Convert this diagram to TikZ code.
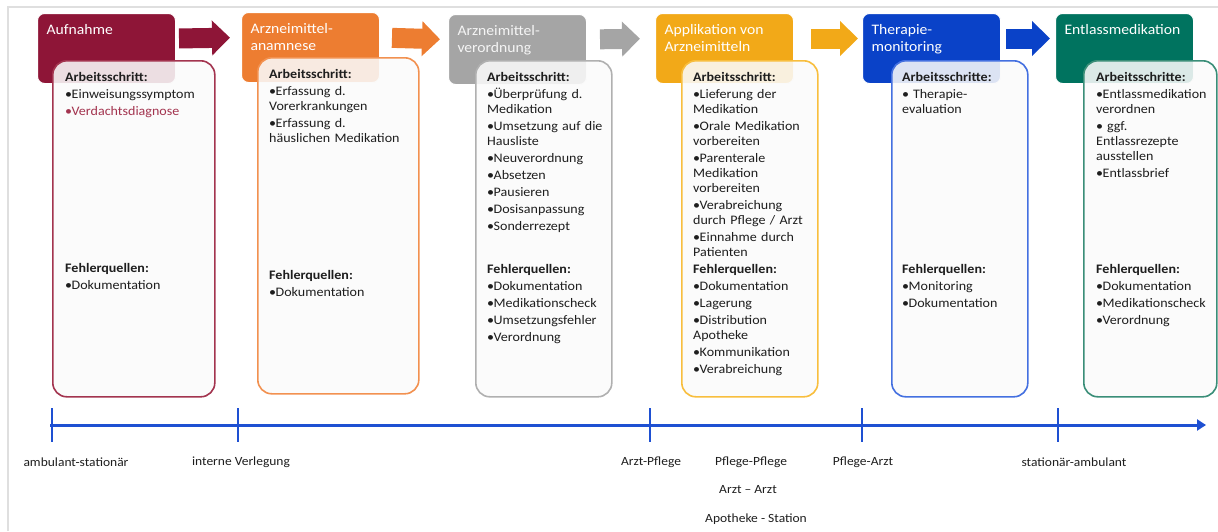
\documentclass[tikz,border=0pt]{standalone}
\usepackage{fontspec}
\setmainfont{Carlito}[FakeStretch=1.08]
\usepackage{xcolor}
\usetikzlibrary{positioning,arrows.meta,calc}

\definecolor{aufRed}{HTML}{8E1537}
\definecolor{aufRedL}{HTML}{A3344F}
\definecolor{anaOra}{HTML}{ED7D31}
\definecolor{anaOraL}{HTML}{F29150}
\definecolor{verGry}{HTML}{A5A5A5}
\definecolor{verGryL}{HTML}{B0B0B0}
\definecolor{appGld}{HTML}{F2A918}
\definecolor{appGldL}{HTML}{F8BE3E}
\definecolor{monBlu}{HTML}{0A42C8}
\definecolor{monBluL}{HTML}{4470E0}
\definecolor{entGrn}{HTML}{00735F}
\definecolor{entGrnL}{HTML}{3A8E78}
\definecolor{txtc}{HTML}{1E1E1E}
\definecolor{tlBlu}{HTML}{1E50D2}

\newcommand{\bul}[2][txtc]{\par\vspace{2pt}\hangindent=6.5pt\noindent{\color{#1}\hbox to 6.5pt{\textbullet\hss}#2}}
\newcommand{\headbox}[1]{\parbox[b][56pt][t]{120pt}{\vspace*{4pt}\raggedright #1}}

\begin{document}
\begin{tikzpicture}[x=1pt,y=-1pt,
    head/.style={fill=#1,rounded corners=7pt,draw=white,line width=1pt,
                 inner xsep=9pt,inner ysep=7pt,anchor=north west,text=white,
                 font=\fontsize{14.5}{17}\selectfont},
    card/.style={draw=#1,line width=1.6pt,rounded corners=14pt,fill=gray!4,
                 fill opacity=0.88,minimum height=336pt,inner sep=0pt},
    txt/.style={inner sep=0pt,text width=#1,align=left,text=txtc,
                font=\fontsize{13}{15}\selectfont},
    flow/.style={draw=#1,line width=20pt,-{Triangle[length=18pt,width=34pt]}},
    tline/.style={draw=tlBlu,line width=3pt,-{Triangle[length=9pt,width=11pt]}},
    tick/.style={draw=tlBlu,line width=2.2pt},
    lbl/.style={text=txtc,font=\fontsize{12.5}{14}\selectfont},
    frame/.style={draw=gray!25,line width=2pt}]

\useasboundingbox (0,0) rectangle (1218,531);
\draw[frame] (8,531) -- (8,7) -- (1218,7);

% phase headers
\node[head=aufRed] (hAuf) at (37,13) {\headbox{Aufnahme}};
\node[head=anaOra] (hAna) at (241,12) {\headbox{Arzneimittel-\\anamnese}};
\node[head=verGry,text=white!92!gray] (hVer) at (448,14) {\headbox{Arzneimittel-\\verordnung}};
\node[head=appGld] (hApp) at (655,13) {\headbox{Applikation von\\Arzneimitteln}};
\node[head=monBlu] (hMon) at (862,13) {\headbox{Therapie-\\monitoring}};
\node[head=entGrn] (hEnt) at (1055,13) {\headbox{Entlassmedikation}};

% block arrows
\draw[flow=aufRed,shorten <=3pt,shorten >=11pt] ([yshift=10pt]hAuf.east) -- ([yshift=10pt]hAna.west);
\draw[flow=anaOra,shorten <=12pt,shorten >=8pt] ([yshift=10pt]hAna.east) -- ([yshift=10pt]hVer.west);
\draw[flow=verGry,shorten <=13pt,shorten >=15pt] ([yshift=10pt]hVer.east) -- ([yshift=10pt]hApp.west);
\draw[flow=appGld,shorten <=17pt,shorten >=4pt] ([yshift=10pt]hApp.east) -- ([yshift=10pt]hMon.west);
\draw[flow=monBlu,shorten <=5pt,shorten >=5pt] ([yshift=10pt]hMon.east) -- ([yshift=10pt]hEnt.west);

% cards
\node[card=aufRedL,minimum width=162pt,below right=47pt and 15pt of hAuf.north west] (cAuf) {};
\node[card=anaOraL,minimum width=161pt,below right=45pt and 16pt of hAna.north west] (cAna) {};
\node[card=verGryL,minimum width=136pt,below right=46pt and 27pt of hVer.north west] (cVer) {};
\node[card=appGldL,minimum width=136pt,below right=47pt and 26pt of hApp.north west] (cApp) {};
\node[card=monBluL,minimum width=136pt,below right=47pt and 29pt of hMon.north west] (cMon) {};
\node[card=entGrnL,minimum width=133pt,below right=47pt and 28pt of hEnt.north west] (cEnt) {};

% work steps
\node[txt=145pt,below right=12pt and 13pt of cAuf.north west] (sAuf)
  {\textbf{Arbeitsschritt:}\bul{Einweisungssymptom}\bul[aufRedL]{Verdachtsdiagnose}};
\node[txt=145pt,below right=12pt and 12pt of cAna.north west] (sAna)
  {\textbf{Arbeitsschritt:}\bul{Erfassung d.\\Vorerkrankungen}\bul{Erfassung d.\\häuslichen Medikation}};
\node[txt=125pt,below right=12pt and 12pt of cVer.north west] (sVer)
  {\textbf{Arbeitsschritt:}\bul{Überprüfung d.\\Medikation}\bul{Umsetzung auf die\\Hausliste}%
   \bul{Neuverordnung}\bul{Absetzen}\bul{Pausieren}\bul{Dosisanpassung}\bul{Sonderrezept}};
\node[txt=125pt,below right=12pt and 12pt of cApp.north west] (sApp)
  {\textbf{Arbeitsschritt:}\bul{Lieferung der\\Medikation}\bul{Orale Medikation\\vorbereiten}%
   \bul{Parenterale\\Medikation\\vorbereiten}\bul{Verabreichung\\durch Pflege / Arzt}\bul{Einnahme durch\\Patienten}};
\node[txt=125pt,below right=12pt and 11pt of cMon.north west] (sMon)
  {\textbf{Arbeitsschritte:}\bul{ Therapie-\\evaluation}};
\node[txt=125pt,below right=12pt and 13pt of cEnt.north west] (sEnt)
  {\textbf{Arbeitsschritte:}\bul{Entlassmedikation\\verordnen}\bul{ ggf.\\Entlassrezepte\\ausstellen}\bul{Entlassbrief}};

% error sources
\node[txt=145pt,below right=203pt and 13pt of cAuf.north west] (eAuf)
  {\textbf{Fehlerquellen:}\bul{Dokumentation}};
\node[txt=145pt,below right=213pt and 12pt of cAna.north west] (eAna)
  {\textbf{Fehlerquellen:}\bul{Dokumentation}};
\node[txt=125pt,below right=204pt and 12pt of cVer.north west] (eVer)
  {\textbf{Fehlerquellen:}\bul{Dokumentation}\bul{Medikationscheck}\bul{Umsetzungsfehler}\bul{Verordnung}};
\node[txt=125pt,below right=204pt and 12pt of cApp.north west] (eApp)
  {\textbf{Fehlerquellen:}\bul{Dokumentation}\bul{Lagerung}\bul{Distribution\\Apotheke}\bul{Kommunikation}\bul{Verabreichung}};
\node[txt=125pt,below right=204pt and 11pt of cMon.north west] (eMon)
  {\textbf{Fehlerquellen:}\bul{Monitoring}\bul{Dokumentation}};
\node[txt=125pt,below right=204pt and 13pt of cEnt.north west] (eEnt)
  {\textbf{Fehlerquellen:}\bul{Dokumentation}\bul{Medikationscheck}\bul{Verordnung}};

% timeline
\coordinate (tStart) at (50,425);
\coordinate (tEnd) at (1206,425);
\draw[tline] (tStart) -- (tEnd);
\foreach \x in {52,238,650,862,1058}
  \draw[tick] (\x,408) -- (\x,442);

\node[lbl] (lAmb) at (76,462) {ambulant-stationär};
\node[lbl] (lInt) at (241,462) {interne Verlegung};
\node[lbl] (lAP) at (651,462) {Arzt-Pflege};
\node[lbl] (lPP) at (751,462) {Pflege-Pflege};
\node[lbl] (lPA) at (863,462) {Pflege-Arzt};
\node[lbl] (lSA) at (1074,462) {stationär-ambulant};
\node[lbl] (lAA) at (748,490) {Arzt – Arzt};
\node[lbl] (lAS) at (756,519) {Apotheke - Station};

\end{tikzpicture}
\end{document}
